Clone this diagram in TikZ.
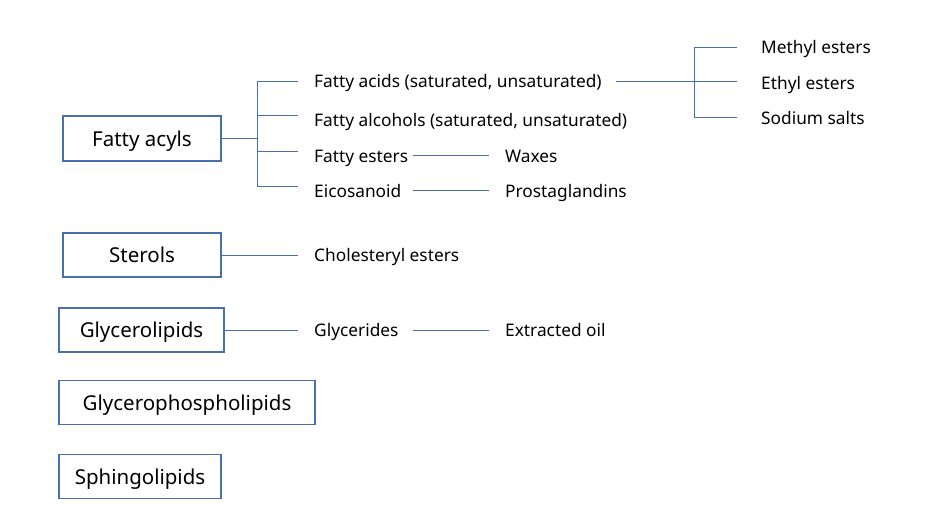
\documentclass[tikz,border=0pt]{standalone}
\usepackage{fontspec}
\setmainfont{Noto Sans}
\definecolor{boxblue}{HTML}{4A6FAE}
\definecolor{lineblue}{HTML}{4A6FAE}
\begin{document}
\begin{tikzpicture}[x=1pt,y=-1pt,
  box/.style={draw=boxblue,line width=1.6pt,inner sep=0pt,text height=18pt,text depth=3pt,font=\fontsize{20.5}{24}\selectfont},
  lbl/.style={anchor=base west,inner sep=0pt,font=\fontsize{17.3}{20}\selectfont},
  conn/.style={draw=lineblue,line width=0.9pt}]
\useasboundingbox (0,0) rectangle (948,530);
% boxes
\node[box,minimum width=158pt,minimum height=45pt] (fa) at (142,138.5) {Fatty acyls};
\node[box,minimum width=158pt,minimum height=44pt] (st) at (142,255) {Sterols};
\node[box,minimum width=165pt,minimum height=44pt] (gl) at (141.5,330) {Glycerolipids};
\node[box,minimum width=256pt,minimum height=44pt] (gp) at (187,402.5) {Glycerophospholipids};
\node[box,minimum width=162pt,minimum height=44pt] (sp) at (140,476.5) {Sphingolipids};
% labels (base line ~6pt below the text's middle)
\node[lbl] (acids) at (314,87) {Fatty acids (saturated, unsaturated)};
\node[lbl] (alc) at (314,126) {Fatty alcohols (saturated, unsaturated)};
\node[lbl] (est) at (314,162) {Fatty esters};
\node[lbl] (eic) at (314,197) {Eicosanoid};
\node[lbl] (wax) at (505,162) {Waxes};
\node[lbl] (pro) at (505,197) {Prostaglandins};
\node[lbl] (me) at (761,53) {Methyl esters};
\node[lbl] (ee) at (761,89) {Ethyl esters};
\node[lbl] (ss) at (761,124) {Sodium salts};
\node[lbl] (ce) at (314,261) {Cholesteryl esters};
\node[lbl] (gy) at (314,336) {Glycerides};
\node[lbl] (eo) at (505,336) {Extracted oil};
% junction coordinates
\coordinate (j1) at (257,138.5);
\coordinate (j1a) at (257,81);
\coordinate (j1b) at (257,115);
\coordinate (j1c) at (257,151);
\coordinate (j1d) at (257,186);
\coordinate (t1a) at (298,81);
\coordinate (t1b) at (298,115);
\coordinate (t1c) at (298,151);
\coordinate (t1d) at (298,186);
\coordinate (j2s) at (616,81);
\coordinate (j2) at (694,81);
\coordinate (j2a) at (694,47);
\coordinate (j2c) at (694,117);
\coordinate (t2a) at (737,47);
\coordinate (t2b) at (737,81);
\coordinate (t2c) at (737,117);
\coordinate (e1) at (413,155);
\coordinate (e2) at (489,155);
\coordinate (p1) at (413,190);
\coordinate (p2) at (489,190);
\coordinate (s2) at (298,255);
\coordinate (g2) at (298,330);
\coordinate (g3) at (413,330);
\coordinate (g4) at (489,330);
% connectors
\draw[conn] (fa.east) -- (j1);
\draw[conn] (j1a) -- (j1d);
\draw[conn] (j1a) -- (t1a);
\draw[conn] (j1b) -- (t1b);
\draw[conn] (j1c) -- (t1c);
\draw[conn] (j1d) -- (t1d);
\draw[conn] (j2s) -- (j2);
\draw[conn] (j2a) -- (j2c);
\draw[conn] (j2a) -- (t2a);
\draw[conn] (j2) -- (t2b);
\draw[conn] (j2c) -- (t2c);
\draw[conn] (e1) -- (e2);
\draw[conn] (p1) -- (p2);
\draw[conn] (st.east) -- (s2);
\draw[conn] (gl.east) -- (g2);
\draw[conn] (g3) -- (g4);
\end{tikzpicture}
\end{document}
